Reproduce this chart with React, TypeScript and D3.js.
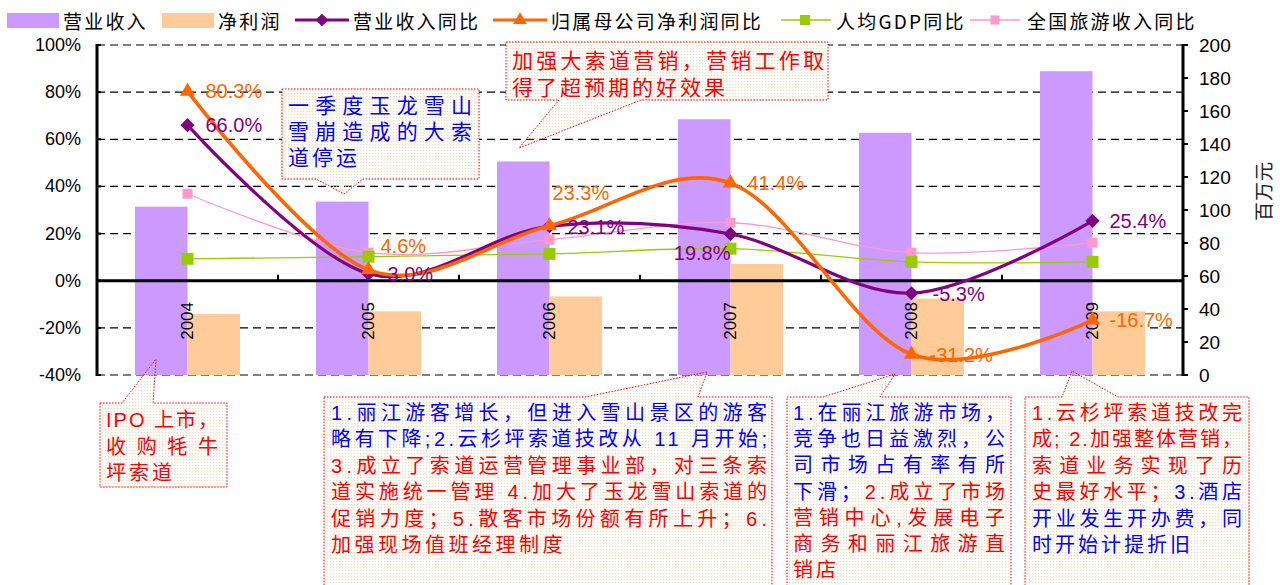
import React from 'react';
import * as d3 from 'd3';

// ---- data ----
const years = ['2004', '2005', '2006', '2007', '2008', '2009'];
const revenue = [102.0, 105.1, 129.4, 155.0, 146.8, 184.1]; // 百万元
const netProfit = [36.9, 38.6, 47.6, 67.3, 46.3, 38.6]; // 百万元
const revenueYoY = [66.0, 3.0, 23.1, 19.8, -5.3, 25.4]; // %
const profitYoY = [80.3, 4.6, 23.3, 41.4, -31.2, -16.7]; // %
const gdpYoY = [9.3, 10.2, 11.4, 13.6, 8.0, 8.0]; // %
const tourismYoY = [36.9, 11.9, 17.4, 24.6, 11.9, 16.1]; // %
const leftTicks = [-40, -20, 0, 20, 40, 60, 80, 100];
const rightTicks = [0, 20, 40, 60, 80, 100, 120, 140, 160, 180, 200];

// label nudges (dx, dy, anchor) for the percentage labels
const revenueLabelNudge: [number, number, string][] = [
  [18, 0, 'start'], [19, 0, 'start'], [18, 1, 'start'], [0, 19, 'end'], [21, 1, 'start'], [17, 0, 'start'],
];
const profitLabelNudge: [number, number, string][] = [
  [18, 0, 'start'], [12, -24, 'start'], [3, -33, 'start'], [17, 0, 'start'], [18, 1, 'start'], [17, 0, 'start'],
];

const C = {
  revBar: '#CC99FF',
  npBar: '#FFCC99',
  revLine: '#800080',
  npLine: '#FF6600',
  gdp: '#99CC00',
  tour: '#FF99CC',
  red: '#FF0000',
  blue: '#0000FF',
};

const LATIN = "'Liberation Sans', Arial, 'Noto Sans CJK SC', sans-serif";
const CJK = "'Noto Sans CJK SC', 'Liberation Sans', sans-serif";

type Seg = { t: string; c: string };
type Line = { segs: Seg[]; justify: boolean };
type Callout = {
  left: number; top: number; right: number; bottom: number;
  edge: 'top' | 'bottom'; px1: number; px2: number; tipX: number; tipY: number;
  textX: number; textW: number; y0: number; step: number; fs: number; ls: number;
  lines: Line[];
};

const R = (t: string): Seg => ({ t, c: C.red });
const B = (t: string): Seg => ({ t, c: C.blue });

const callouts: Callout[] = [
  {
    left: 282, top: 89, right: 479, bottom: 179, edge: 'bottom', px1: 316, px2: 363, tipX: 344, tipY: 194,
    textX: 288, textW: 184, y0: 105, step: 26, fs: 21, ls: 3,
    lines: [
      { segs: [B('一季度玉龙雪山')], justify: true },
      { segs: [B('雪崩造成的大索')], justify: true },
      { segs: [B('道停运')], justify: false },
    ],
  },
  {
    left: 506, top: 42, right: 828, bottom: 100, edge: 'bottom', px1: 559, px2: 641, tipX: 519, tipY: 148,
    textX: 512, textW: 312, y0: 60, step: 27, fs: 21, ls: 3,
    lines: [
      { segs: [R('加强大索道营销，营销工作取')], justify: true },
      { segs: [R('得了超预期的好效果')], justify: false },
    ],
  },
  {
    left: 100, top: 403, right: 227, bottom: 487, edge: 'top', px1: 122, px2: 153, tipX: 156, tipY: 359,
    textX: 106, textW: 112, y0: 420, step: 26.5, fs: 20, ls: 3,
    lines: [
      { segs: [R('IPO 上市，')], justify: true },
      { segs: [R('收购牦牛')], justify: true },
      { segs: [R('坪索道')], justify: false },
    ],
  },
  {
    left: 324, top: 397, right: 772, bottom: 600, edge: 'top', px1: 585, px2: 698, tipX: 707, tipY: 372,
    textX: 331, textW: 436, y0: 413, step: 26.4, fs: 20, ls: 3.5,
    lines: [
      { segs: [B('1.丽江游客增长，但进入雪山景区的游客')], justify: true },
      { segs: [B('略有下降;2.云杉坪索道技改从 11 月开始;')], justify: true },
      { segs: [R('3.成立了索道运营管理事业部，对三条索')], justify: true },
      { segs: [R('道实施统一管理 4.加大了玉龙雪山索道的')], justify: true },
      { segs: [R('促销力度；5.散客市场份额有所上升；6.')], justify: true },
      { segs: [R('加强现场值班经理制度')], justify: false },
    ],
  },
  {
    left: 787, top: 397, right: 1011, bottom: 600, edge: 'top', px1: 823, px2: 880, tipX: 895, tipY: 374,
    textX: 793, textW: 212, y0: 413, step: 26.2, fs: 20, ls: 3,
    lines: [
      { segs: [B('1.在丽江旅游市场，')], justify: true },
      { segs: [B('竞争也日益激烈，公')], justify: true },
      { segs: [B('司市场占有率有所')], justify: true },
      { segs: [B('下滑；'), R('2.成立了市场')], justify: true },
      { segs: [R('营销中心,发展电子')], justify: true },
      { segs: [R('商务和丽江旅游直')], justify: true },
      { segs: [R('销店')], justify: false },
    ],
  },
  {
    left: 1025, top: 397, right: 1249, bottom: 600, edge: 'top', px1: 1062, px2: 1118, tipX: 1072, tipY: 371,
    textX: 1032, textW: 210, y0: 413, step: 26.4, fs: 20, ls: 3,
    lines: [
      { segs: [R('1.云杉坪索道技改完')], justify: true },
      { segs: [R('成; 2.加强整体营销，')], justify: true },
      { segs: [R('索道业务实现了历')], justify: true },
      { segs: [R('史最好水平；'), B('3.酒店')], justify: true },
      { segs: [B('开业发生开办费，同')], justify: true },
      { segs: [B('时开始计提折旧')], justify: false },
    ],
  },
];

function calloutPath(c: Callout): string {
  if (c.edge === 'top') {
    return `M${c.left},${c.top}L${c.px1},${c.top}L${c.tipX},${c.tipY}L${c.px2},${c.top}L${c.right},${c.top}L${c.right},${c.bottom}L${c.left},${c.bottom}Z`;
  }
  return `M${c.left},${c.top}L${c.right},${c.top}L${c.right},${c.bottom}L${c.px2},${c.bottom}L${c.tipX},${c.tipY}L${c.px1},${c.bottom}L${c.left},${c.bottom}Z`;
}

function CalloutBox({ c }: { c: Callout }) {
  const baseY = c.edge === 'top' ? c.top : c.bottom;
  const tri = `M${c.px1},${baseY}L${c.tipX},${c.tipY}L${c.px2},${baseY}Z`;
  return (
    <g>
      <rect x={c.left} y={c.top} width={c.right - c.left} height={c.bottom - c.top} fill="#ffffff" />
      <rect x={c.left} y={c.top} width={c.right - c.left} height={c.bottom - c.top} fill="url(#boxDots)" />
      <path d={tri} fill="url(#boxDots)" />
      <path d={calloutPath(c)} fill="none" stroke={C.red} strokeWidth={1} strokeDasharray="1.5 1.5" />
      {c.lines.map((ln, i) => (
        <text
          key={i}
          x={c.textX}
          y={c.y0 + i * c.step}
          dominantBaseline="central"
          fontFamily={LATIN}
          fontSize={c.fs}
          textLength={ln.justify ? c.textW : undefined}
          lengthAdjust={ln.justify ? 'spacing' : undefined}
          style={ln.justify ? undefined : { letterSpacing: `${c.ls}px` }}
        >
          {ln.segs.map((s, j) => (
            <tspan key={j} fill={s.c}>{s.t}</tspan>
          ))}
        </text>
      ))}
    </g>
  );
}

const W = 1280;
const H = 585;
const plotLeft = 97;
const plotRight = 1183;
const plotTop = 45;
const plotBottom = 375;

export default function App() {
  const x0 = d3.scaleBand<string>().domain(years).range([plotLeft, plotRight]).padding(0);
  const bw = x0.bandwidth();
  const cx = (i: number) => (x0(years[i]) as number) + bw / 2;
  const groupW = bw * 0.58;
  const x1 = d3.scaleBand<string>().domain(['rev', 'np']).range([0, groupW]).padding(0);
  const yL = d3.scaleLinear().domain([-40, 100]).range([plotBottom, plotTop]);
  const yR = d3.scaleLinear().domain([0, 200]).range([plotBottom, plotTop]);

  const lineGen = (vals: number[]) =>
    d3.line<number>()
      .x((_, i) => cx(i))
      .y((v) => yL(v))
      .curve(d3.curveCardinal.tension(0))(vals) as string;

  const tri = d3.symbol().type(d3.symbolTriangle).size(100)() as string;
  const triSmall = d3.symbol().type(d3.symbolTriangle).size(80)() as string;
  const sq = (s: number) => d3.symbol().type(d3.symbolSquare).size(s * s)() as string;

  const legendY = 20;
  const legendFont = { fontFamily: CJK, fontSize: 19, letterSpacing: '2.2px' } as const;

  return (
    <svg width={W} height={H} style={{ position: 'absolute', left: 0, top: 0, background: '#fff' }}>
      <defs>
        <pattern id="boxDots" width="3" height="3" patternUnits="userSpaceOnUse">
          <rect x="0" y="0" width="1.2" height="1.2" fill="#f6cfa3" opacity="0.75" />
        </pattern>
      </defs>

      {/* legend */}
      <g>
        <rect x={7} y={13} width={52} height={15} fill={C.revBar} />
        <text x={63} y={legendY} dominantBaseline="central" {...legendFont}>营业收入</text>
        <rect x={162} y={13} width={52} height={15} fill={C.npBar} />
        <text x={218} y={legendY} dominantBaseline="central" {...legendFont}>净利润</text>

        <line x1={295} x2={349} y1={legendY} y2={legendY} stroke={C.revLine} strokeWidth={3} />
        <path d={sq(9)} transform={`translate(322,${legendY}) rotate(45)`} fill={C.revLine} />
        <text x={353} y={legendY} dominantBaseline="central" {...legendFont}>营业收入同比</text>

        <line x1={493} x2={547} y1={legendY} y2={legendY} stroke={C.npLine} strokeWidth={3} />
        <path d={triSmall} transform={`translate(520,${legendY})`} fill={C.npLine} />
        <text x={551} y={legendY} dominantBaseline="central" {...legendFont}>归属母公司净利润同比</text>

        <line x1={781} x2={831} y1={legendY} y2={legendY} stroke={C.gdp} strokeWidth={1.3} />
        <path d={sq(10)} transform={`translate(805,${legendY})`} fill={C.gdp} />
        <text x={836} y={legendY} dominantBaseline="central" {...legendFont}>人均GDP同比</text>

        <line x1={970} x2={1020} y1={legendY} y2={legendY} stroke={C.tour} strokeWidth={1.3} />
        <path d={sq(9)} transform={`translate(995,${legendY})`} fill={C.tour} />
        <text x={1027} y={legendY} dominantBaseline="central" {...legendFont}>全国旅游收入同比</text>
      </g>

      {/* dashed gridlines */}
      {leftTicks.filter((t) => t !== 0).map((t) => (
        <line key={t} x1={plotLeft} x2={plotRight} y1={yL(t)} y2={yL(t)} stroke="#000" strokeWidth={1.2} strokeDasharray="8 5" />
      ))}

      {/* bars */}
      {years.map((yr, i) => {
        const gx = cx(i) - groupW / 2;
        return (
          <g key={yr}>
            <rect x={gx + (x1('rev') as number)} y={yR(revenue[i])} width={x1.bandwidth()} height={yR(0) - yR(revenue[i])} fill={C.revBar} />
            <rect x={gx + (x1('np') as number)} y={yR(netProfit[i])} width={x1.bandwidth()} height={yR(0) - yR(netProfit[i])} fill={C.npBar} />
          </g>
        );
      })}

      {/* axes */}
      <line x1={plotLeft} x2={plotLeft} y1={plotTop - 1} y2={plotBottom + 1} stroke="#000" strokeWidth={3} />
      {leftTicks.map((t) => (
        <g key={t}>
          <line x1={plotLeft} x2={plotLeft + 4} y1={yL(t)} y2={yL(t)} stroke="#000" strokeWidth={2} />
          <text x={81} y={yL(t)} textAnchor="end" dominantBaseline="central" fontFamily={LATIN} fontSize={18} fill="#000">{`${t}%`}</text>
        </g>
      ))}
      <line x1={plotRight} x2={plotRight} y1={plotTop - 1} y2={plotBottom + 1} stroke="#000" strokeWidth={3} />
      {rightTicks.map((t) => (
        <g key={t}>
          <line x1={plotRight} x2={plotRight + 5} y1={yR(t)} y2={yR(t)} stroke="#000" strokeWidth={2} />
          <text x={1199} y={yR(t)} dominantBaseline="central" fontFamily={LATIN} fontSize={19} fill="#000">{t}</text>
        </g>
      ))}
      <text transform="translate(1262,191) rotate(-90)" textAnchor="middle" dominantBaseline="central" fontFamily={CJK} fontSize={19} fill="#222" style={{ letterSpacing: '1px' }}>百万元</text>

      {/* zero line with category ticks */}
      <line x1={plotLeft} x2={plotRight} y1={yL(0)} y2={yL(0)} stroke="#000" strokeWidth={3} />
      {years.slice(1).map((yr) => (
        <line key={yr} x1={x0(yr) as number} x2={x0(yr) as number} y1={yL(0)} y2={yL(0) - 6} stroke="#000" strokeWidth={2} />
      ))}
      {years.map((yr, i) => (
        <text key={yr} transform={`translate(${cx(i)},302) rotate(-90)`} textAnchor="end" dominantBaseline="central" fontFamily={LATIN} fontSize={17} fill="#000">{yr}</text>
      ))}

      {/* lines */}
      <path d={lineGen(tourismYoY)} fill="none" stroke={C.tour} strokeWidth={1.3} />
      <path d={lineGen(gdpYoY)} fill="none" stroke={C.gdp} strokeWidth={1.3} />
      {tourismYoY.map((v, i) => (
        <path key={`t${i}`} d={sq(10)} transform={`translate(${cx(i)},${yL(v)})`} fill={C.tour} />
      ))}
      {gdpYoY.map((v, i) => (
        <path key={`g${i}`} d={sq(12)} transform={`translate(${cx(i)},${yL(v)})`} fill={C.gdp} />
      ))}
      <path d={lineGen(revenueYoY)} fill="none" stroke={C.revLine} strokeWidth={3.2} strokeLinejoin="round" />
      {revenueYoY.map((v, i) => (
        <path key={`r${i}`} d={sq(10)} transform={`translate(${cx(i)},${yL(v)}) rotate(45)`} fill={C.revLine} />
      ))}
      <path d={lineGen(profitYoY)} fill="none" stroke={C.npLine} strokeWidth={3.6} strokeLinejoin="round" />
      {profitYoY.map((v, i) => (
        <path key={`p${i}`} d={tri} transform={`translate(${cx(i)},${yL(v)})`} fill={C.npLine} />
      ))}

      {/* value labels */}
      {revenueYoY.map((v, i) => (
        <text key={`rl${i}`} x={cx(i) + revenueLabelNudge[i][0]} y={yL(v) + revenueLabelNudge[i][1]} textAnchor={revenueLabelNudge[i][2]} dominantBaseline="central" fontFamily={LATIN} fontSize={20} fill={C.revLine}>{`${v.toFixed(1)}%`}</text>
      ))}
      {profitYoY.map((v, i) => (
        <text key={`pl${i}`} x={cx(i) + profitLabelNudge[i][0]} y={yL(v) + profitLabelNudge[i][1]} textAnchor={profitLabelNudge[i][2]} dominantBaseline="central" fontFamily={LATIN} fontSize={20} fill={C.npLine}>{`${v.toFixed(1)}%`}</text>
      ))}

      {/* annotation callouts */}
      {callouts.map((c, i) => (
        <CalloutBox key={i} c={c} />
      ))}
    </svg>
  );
}
